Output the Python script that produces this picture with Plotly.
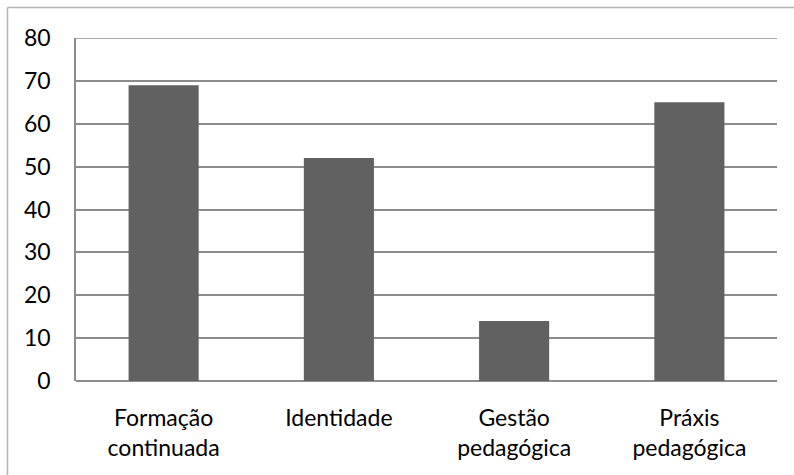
import plotly.graph_objects as go

categories = ["Formação<br>continuada", "Identidade", "Gestão<br>pedagógica", "Práxis<br>pedagógica"]
values = [69, 52, 14, 65]
y_ticks = [0, 10, 20, 30, 40, 50, 60, 70, 80]

W, H = 794, 475
L, T, R, B = 76, 38, 17, 94
pw, ph = W - L - R, H - T - B

grid_col = "#8c8c8c"
frame_col = "#b4b4b4"
font = dict(family="Lato, 'Open Sans', sans-serif", size=23, color="#000000")

fig = go.Figure(go.Bar(
    x=categories, y=values,
    marker=dict(color="#616161", line=dict(width=0)),
    width=0.4,
))

# outer chart frame (left and top edges)
fx = (7.5 - L) / pw
fy = (H - B - 7.5) / ph
fig.add_shape(type="line", xref="paper", yref="paper", x0=fx, x1=fx, y0=fy, y1=-1,
              line=dict(color=frame_col, width=1.5))
fig.add_shape(type="line", xref="paper", yref="paper", x0=fx, x1=2, y0=fy, y1=fy,
              line=dict(color=frame_col, width=1.5))
# top gridline at the axis maximum
fig.add_shape(type="line", xref="paper", yref="y", x0=0, x1=1, y0=y_ticks[-1], y1=y_ticks[-1],
              line=dict(color=grid_col, width=1.5))

fig.update_layout(
    width=W, height=H,
    margin=dict(l=L, r=R, t=T, b=B),
    paper_bgcolor="white", plot_bgcolor="white",
    font=font, showlegend=False, bargap=0.6,
)
fig.update_xaxes(
    showgrid=False, showline=False, ticks="", ticklabelstandoff=21,
    tickfont=font,
)
fig.update_yaxes(
    range=[0, 80], tickvals=y_ticks, showgrid=True, gridcolor=grid_col, gridwidth=1.5,
    showline=True, linecolor=grid_col, linewidth=1.5, zeroline=True,
    zerolinecolor=grid_col, zerolinewidth=1.5, ticks="", ticklabelstandoff=19,
    tickfont=font,
)

fig.write_html("out.html")
